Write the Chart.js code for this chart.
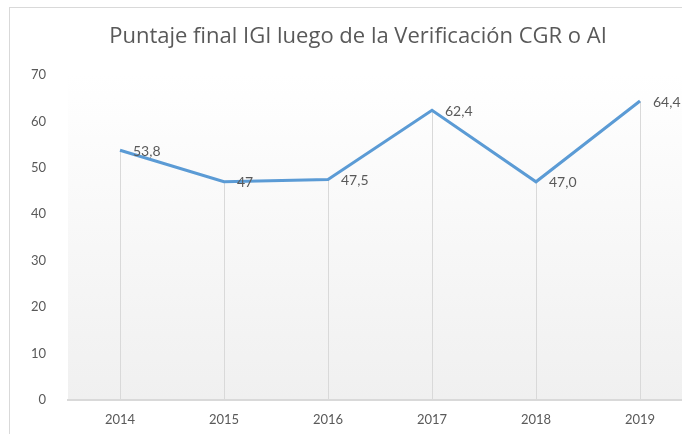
<!DOCTYPE html>
<html>
<head>
<meta charset="utf-8">
<script src="https://cdn.jsdelivr.net/npm/chart.js@4"></script>
<style>
    html, body { margin: 0; padding: 0; overflow: hidden; background: #ffffff; }
    #wrap { position: absolute; left: 0; top: 0; width: 716px; height: 450px; }
</style>
</head>
<body>
<div id="wrap"><canvas id="igiChart" width="716" height="450"></canvas></div>
<script>
const years = ["2014", "2015", "2016", "2017", "2018", "2019"];
const scores = [53.8, 47, 47.5, 62.4, 47.0, 64.4];
const scoreLabels = ["53,8", "47", "47,5", "62,4", "47,0", "64,4"];
const yTicks = [0, 10, 20, 30, 40, 50, 60, 70];

const textColor = "#595959";
const fontFamily = "Lato, 'Open Sans', sans-serif";

// frame + plot background
const backdrop = {
    id: "backdrop",
    beforeDraw(chart) {
        const c = chart.ctx;
        const a = chart.chartArea;
        c.save();
        c.fillStyle = "#ffffff";
        c.fillRect(0, 0, chart.width, chart.height);
        c.strokeStyle = "#d9d9d9";
        c.lineWidth = 1;
        c.strokeRect(9.5, 7.5, 698, 440);
        const g = c.createLinearGradient(0, a.top, 0, a.bottom);
        g.addColorStop(0, "#ffffff");
        g.addColorStop(1, "#f0f0f0");
        c.fillStyle = g;
        c.fillRect(a.left, a.top, a.right - a.left, a.bottom - a.top);
        c.restore();
    }
};

// vertical drop lines from each point down to the axis
const dropLines = {
    id: "dropLines",
    beforeDatasetsDraw(chart) {
        const c = chart.ctx;
        const meta = chart.getDatasetMeta(0);
        c.save();
        c.strokeStyle = "#d9d9d9";
        c.lineWidth = 1;
        meta.data.forEach(function (pt) {
            const x = Math.round(pt.x) + 0.5;
            c.beginPath();
            c.moveTo(x, pt.y);
            c.lineTo(x, chart.chartArea.bottom);
            c.stroke();
        });
        c.restore();
    }
};

// value labels to the right of the points
const valueLabels = {
    id: "valueLabels",
    afterDatasetsDraw(chart) {
        const c = chart.ctx;
        const meta = chart.getDatasetMeta(0);
        c.save();
        c.fillStyle = textColor;
        c.font = "14px " + fontFamily;
        c.textAlign = "left";
        c.textBaseline = "middle";
        meta.data.forEach(function (pt, i) {
            c.fillText(scoreLabels[i], pt.x + 13, pt.y + 1);
        });
        c.restore();
    }
};

new Chart(document.getElementById("igiChart").getContext("2d"), {
    type: "line",
    data: {
        labels: years,
        datasets: [{
            data: scores,
            borderColor: "#5b9bd5",
            borderWidth: 3,
            pointRadius: 0,
            tension: 0,
            fill: false
        }]
    },
    options: {
        responsive: false,
        animation: false,
        layout: { padding: { left: 24, right: 24, top: 0, bottom: 0 } },
        plugins: {
            legend: { display: false },
            tooltip: { enabled: false },
            title: {
                display: true,
                text: "Puntaje final IGI luego de la Verificación CGR o AI",
                color: textColor,
                font: { family: "'Open Sans', sans-serif", size: 22, weight: "normal" },
                padding: { top: 24, bottom: 24.6 }
            }
        },
        scales: {
            x: {
                offset: true,
                grid: { display: false, drawTicks: false },
                border: { display: true, color: "#d9d9d9", width: 2 },
                ticks: { color: textColor, font: { family: fontFamily, size: 13 }, padding: 12 },
                afterFit(scale) { scale.height = 50; }
            },
            y: {
                min: 0,
                max: 70,
                grid: { display: false, drawTicks: false },
                border: { display: false },
                afterBuildTicks(scale) { scale.ticks = yTicks.map(v => ({ value: v })); },
                ticks: { color: textColor, font: { family: fontFamily, size: 13 }, padding: 22 },
                afterFit(scale) { scale.width = 44; }
            }
        }
    },
    plugins: [backdrop, dropLines, valueLabels]
});
</script>
</body>
</html>
